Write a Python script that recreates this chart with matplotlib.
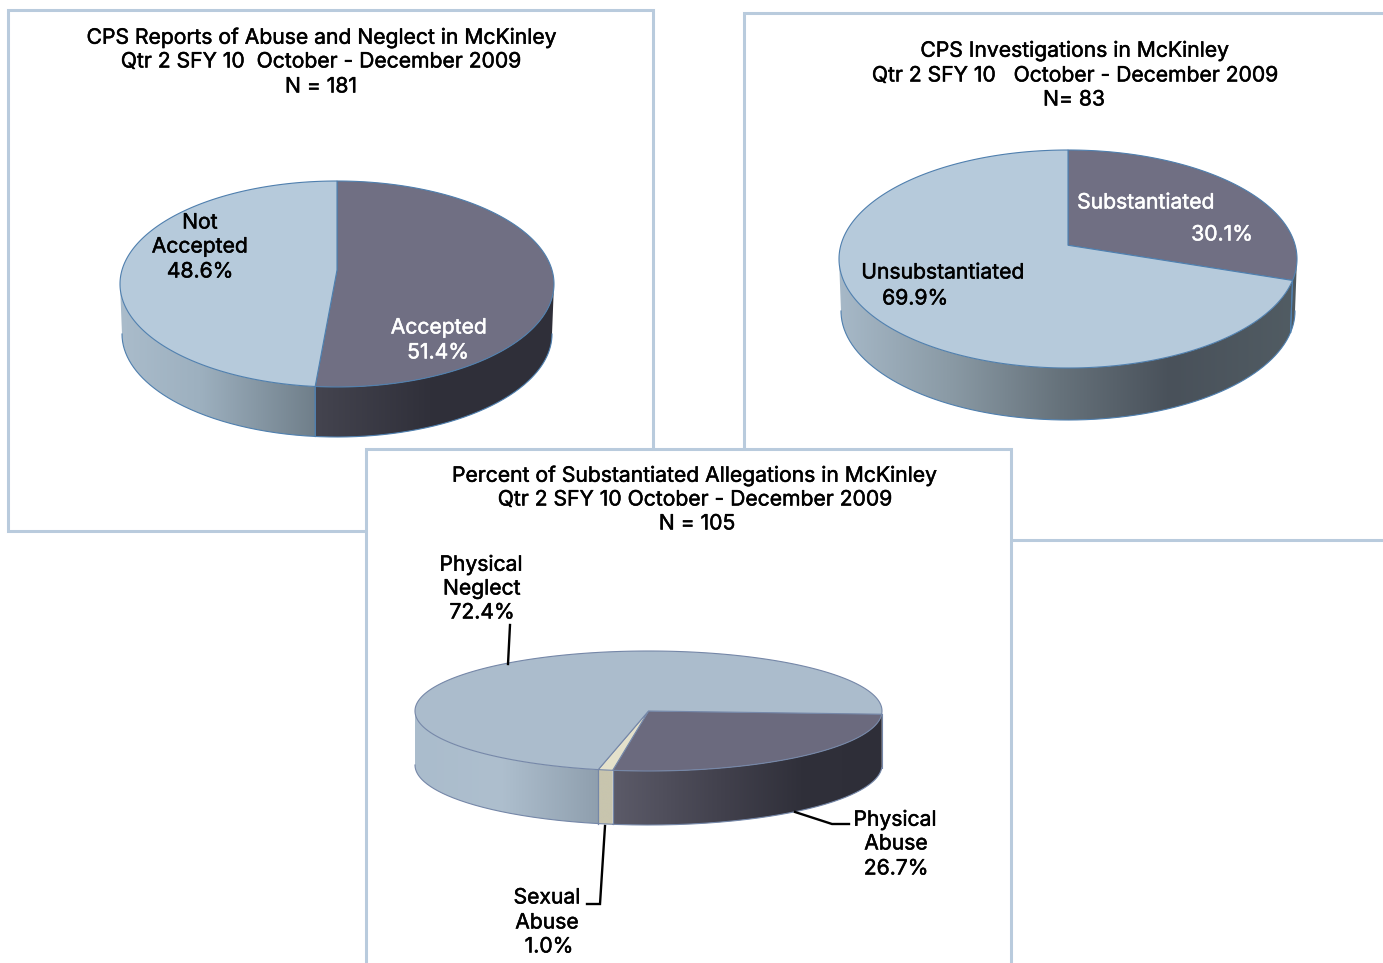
import numpy as np
import matplotlib
matplotlib.use("Agg")
import matplotlib.pyplot as plt
import matplotlib.patheffects as pe
from matplotlib.colors import to_rgb
from matplotlib.patches import Polygon, Rectangle

# ---- data ----
reports_labels = ["Accepted", "Not Accepted"]
reports_values = [51.4, 48.6]
investigations_labels = ["Substantiated", "Unsubstantiated"]
investigations_values = [30.1, 69.9]
allegations_labels = ["Physical Abuse", "Sexual Abuse", "Physical Neglect"]
allegations_values = [26.7, 1.0, 72.4]

title_reports = ["CPS Reports of Abuse and Neglect in McKinley",
                 "Qtr 2 SFY 10  October - December 2009", "N = 181"]
title_investigations = ["CPS Investigations in McKinley",
                        "Qtr 2 SFY 10   October - December 2009", "N= 83"]
title_allegations = ["Percent of Substantiated Allegations in McKinley",
                     "Qtr 2 SFY 10 October - December 2009", "N = 105"]

BORDER = "#b9cbdd"
FS = 15.2
plt.rcParams["font.family"] = ["Inter", "DejaVu Sans"]

fig = plt.figure(figsize=(13.83, 9.63), dpi=100)
ax = fig.add_axes([0, 0, 1, 1])
ax.set_axis_off()


def rim_angle(theta, k):
    """Perspective mapping of a true pie angle on to the drawn ellipse."""
    c, s = np.cos(theta), np.sin(theta)
    d = 1 + k * c
    return np.arctan2(s * np.sqrt(1 - k * k) / d, (c + k) / d)


def gradient(x0, x1, y0, y1, stops, clip, z):
    xs = np.linspace(x0, x1, 256)
    px = [p for p, _ in stops]
    cols = np.array([to_rgb(c) for _, c in stops])
    img = np.stack([np.interp(xs, px, cols[:, i]) for i in range(3)], axis=-1)[None, :, :]
    im = ax.imshow(img, extent=(x0, x1, y1, y0), aspect="auto", zorder=z,
                   interpolation="bilinear")
    im.set_clip_path(clip)


def pie3d(cx, cy, rx, ry, depth, k, start, values, tops, sides, edge, z, inset=2.0):
    def top_pt(t):
        return cx + rx * np.sin(t), cy - ry * np.cos(t)

    def bot_pt(t):
        return cx + (rx - inset) * np.sin(t), cy + depth - ry * np.cos(t)

    ax_ = cx, cy - ry * k
    bounds = start + np.cumsum([0] + list(values)) * 3.6
    # side walls
    for i in range(len(values)):
        a = np.radians(bounds[i])
        b = np.radians(bounds[i + 1])
        ta, tb = rim_angle(a, k) % (2 * np.pi), rim_angle(b, k)
        tb = tb % (2 * np.pi)
        if tb <= ta:
            tb += 2 * np.pi
        lo, hi = max(ta, np.pi / 2), min(tb, 3 * np.pi / 2)
        if hi <= lo:
            continue
        t = np.linspace(lo, hi, 160)
        tx, ty = top_pt(t)
        bx, by = bot_pt(t)
        pts = np.r_[np.c_[tx, ty], np.c_[bx, by][::-1]]
        poly = Polygon(pts, closed=True, facecolor="none", edgecolor="none",
                       transform=ax.transData, zorder=z + 1)
        ax.add_patch(poly)
        gradient(pts[:, 0].min(), pts[:, 0].max(), pts[:, 1].min(), pts[:, 1].max(),
                 sides[i], poly, z + 1)
        ax.plot(bx, by, color=edge, lw=0.8, zorder=z + 2)
        for tv in (lo, hi):
            if np.pi / 2 < tv < 3 * np.pi / 2:
                px, py = top_pt(tv)
                qx, qy = bot_pt(tv)
                ax.plot([px, qx], [py, qy], color=edge, lw=0.8, zorder=z + 2)
    # top faces
    for i in range(len(values)):
        th = np.radians(np.linspace(bounds[i], bounds[i + 1], 240))
        t = np.unwrap(rim_angle(th, k))
        tx, ty = top_pt(t)
        pts = np.r_[[ax_], np.c_[tx, ty]]
        ax.add_patch(Polygon(pts, closed=True, facecolor=tops[i], edgecolor=edge,
                             lw=0.8, joinstyle="miter", zorder=z + 3))


def panel(x0, y0, x1, y1, z):
    ax.add_patch(Rectangle((x0, y0), x1 - x0, y1 - y0, facecolor="white",
                           edgecolor=BORDER, lw=2.2, zorder=z))


def write(lines, z, color="black"):
    for s, x, y in lines:
        ax.text(x, y + 1.5, s, ha="center", va="center", fontsize=FS, color=color, zorder=z,
                path_effects=[pe.withStroke(linewidth=0.35, foreground=color)])


# ---- panel 1 ----
panel(8, 10.5, 652.5, 531.5, 1)
pie3d(337, 284, 217, 103, 50, 0.136, 0, reports_values,
      ["#706f83", "#b6cadb"],
      [[(134, "#3c3c47"), (316, "#44444f"), (430, "#30303a"), (553, "#2f2f39")],
       [(120, "#aabccb"), (200, "#9db0bf"), (316, "#6f7e89")]],
      "#4f7fae", 2)
write([(title_reports[0], 322, 36), (title_reports[1], 321, 60), (title_reports[2], 321, 85),
       ("Not", 200, 221), (reports_labels[0], 200, 245), (f"{reports_values[1]:.1f}%", 200, 270)], 10)
write([(reports_labels[0], 439, 326), (f"{reports_values[0]:.1f}%", 438, 351)], 10, "white")

# ---- panel 2 ----
panel(744, 13.5, 1390, 540.5, 1)
pie3d(1068, 259, 229, 109, 52, 0.126, 0, investigations_values,
      ["#706f83", "#b6cadb"],
      [[(1068, "#4a5259"), (1295, "#4f5a60")],
       [(841, "#a6b8c7"), (950, "#8a9aa5"), (1060, "#66727b"), (1170, "#49515a"), (1295, "#515c63")]],
      "#4f7fae", 2)
write([(title_investigations[0], 1075, 49), (title_investigations[1], 1075, 74),
       (title_investigations[2], 1074, 98),
       (investigations_labels[1], 943, 271), (f"{investigations_values[1]:.1f}%", 915, 297)], 10)
write([(investigations_labels[0], 1146, 201), (f"{investigations_values[0]:.1f}%", 1222, 233)], 10, "white")

# ---- panel 3 ----
panel(366, 449.5, 1010.5, 975, 20)
pie3d(648.5, 711, 233.5, 60, 54, 0.0, 92.7, allegations_values,
      ["#6b6a7e", "#e4e1cb", "#abbccc"],
      [[(612, "#5c5b69"), (720, "#42414d"), (800, "#30303a"), (882, "#2e2e38")],
       [(598, "#c8c5ae"), (612, "#c8c5ae")],
       [(415, "#aabccc"), (500, "#aebfce"), (598, "#8f9fae")]],
      "#7587a8", 21, inset=0.0)
leader_paths = [([510, 508], [625, 664]),
                ([795, 832, 849], [812, 824, 824]),
                ([605, 600, 587], [826, 904, 904])]
for xs, ys in leader_paths:
    ax.plot(xs, ys, color="black", lw=1.7, zorder=30, solid_joinstyle="miter")
write([(title_allegations[0], 695, 474), (title_allegations[1], 695, 498), (title_allegations[2], 697, 522),
       ("Physical", 481, 563), ("Neglect", 482, 587), (f"{allegations_values[2]:.1f}%", 482, 611),
       ("Physical", 895, 818), ("Abuse", 896, 842), (f"{allegations_values[0]:.1f}%", 896, 867),
       ("Sexual", 547, 896), ("Abuse", 547, 921), (f"{allegations_values[1]:.1f}%", 549, 945)], 31)

ax.set_xlim(0, 1383)
ax.set_ylim(963, 0)
fig.savefig("out.png", dpi=100, facecolor="white")
